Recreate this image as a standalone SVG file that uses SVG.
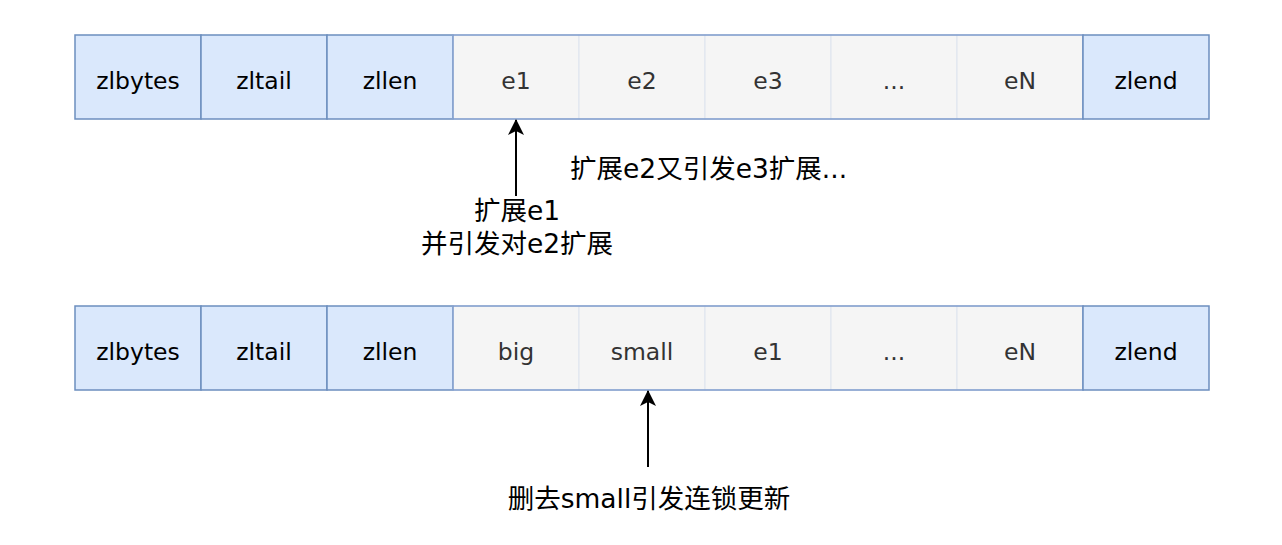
<svg xmlns="http://www.w3.org/2000/svg" width="1282" height="545" viewBox="0 0 1282 545">
<defs>
<style>
.blue{fill:#dae8fc;stroke:#6c8ebf;stroke-width:1.5}
.grey{fill:#f5f5f5;stroke:#dde3ee;stroke-width:1}
.outer{fill:none;stroke:#7d9bcc;stroke-width:1.5}
.lb{font-family:"DejaVu Sans","Noto Sans",sans-serif;font-size:23.5px;text-anchor:middle;fill:#000}
.lg{font-family:"DejaVu Sans","Noto Sans",sans-serif;font-size:23.5px;text-anchor:middle;fill:#333}
.note{font-family:"DejaVu Sans","Noto Sans CJK SC",sans-serif;font-size:26.5px;fill:#000}
.conn{stroke:#000;stroke-width:2;fill:none}
</style>
<marker id="arr" viewBox="0 0 16 16" refX="15" refY="8" markerWidth="16" markerHeight="16" markerUnits="userSpaceOnUse" orient="auto">
<path d="M0,0 L16,8 L0,16 L4,8 Z" fill="#000"/>
</marker>
</defs>
<rect width="1282" height="545" fill="#fff"/>
<g id="row1">
<g id="r1-zlbytes"><rect class="blue" x="75" y="35" width="126" height="84"/><text class="lb" x="138" y="89">zlbytes</text></g>
<g id="r1-zltail"><rect class="blue" x="201" y="35" width="126" height="84"/><text class="lb" x="264" y="89">zltail</text></g>
<g id="r1-zllen"><rect class="blue" x="327" y="35" width="126" height="84"/><text class="lb" x="390" y="89">zllen</text></g>
<g id="r1-e1"><rect class="grey" x="453" y="35" width="126" height="84"/><text class="lg" x="516" y="89">e1</text></g>
<g id="r1-e2"><rect class="grey" x="579" y="35" width="126" height="84"/><text class="lg" x="642" y="89">e2</text></g>
<g id="r1-e3"><rect class="grey" x="705" y="35" width="126" height="84"/><text class="lg" x="768" y="89">e3</text></g>
<g id="r1-dots"><rect class="grey" x="831" y="35" width="126" height="84"/><text class="lg" x="894" y="89">...</text></g>
<g id="r1-eN"><rect class="grey" x="957" y="35" width="126" height="84"/><text class="lg" x="1020" y="89">eN</text></g>
<rect class="outer" x="453" y="35" width="630" height="84"/>
<g id="r1-zlend"><rect class="blue" x="1083" y="35" width="126" height="84"/><text class="lb" x="1146" y="89">zlend</text></g>
</g>
<g id="row2">
<g id="r2-zlbytes"><rect class="blue" x="75" y="306" width="126" height="84"/><text class="lb" x="138" y="360">zlbytes</text></g>
<g id="r2-zltail"><rect class="blue" x="201" y="306" width="126" height="84"/><text class="lb" x="264" y="360">zltail</text></g>
<g id="r2-zllen"><rect class="blue" x="327" y="306" width="126" height="84"/><text class="lb" x="390" y="360">zllen</text></g>
<g id="r2-big"><rect class="grey" x="453" y="306" width="126" height="84"/><text class="lg" x="516" y="360">big</text></g>
<g id="r2-small"><rect class="grey" x="579" y="306" width="126" height="84"/><text class="lg" x="642" y="360">small</text></g>
<g id="r2-e1"><rect class="grey" x="705" y="306" width="126" height="84"/><text class="lg" x="768" y="360">e1</text></g>
<g id="r2-dots"><rect class="grey" x="831" y="306" width="126" height="84"/><text class="lg" x="894" y="360">...</text></g>
<g id="r2-eN"><rect class="grey" x="957" y="306" width="126" height="84"/><text class="lg" x="1020" y="360">eN</text></g>
<rect class="outer" x="453" y="306" width="630" height="84"/>
<g id="r2-zlend"><rect class="blue" x="1083" y="306" width="126" height="84"/><text class="lb" x="1146" y="360">zlend</text></g>
</g>
<g id="connectors">
<line class="conn" x1="516" y1="196" x2="516" y2="120" marker-end="url(#arr)"/>
<line class="conn" x1="648" y1="467" x2="648" y2="391" marker-end="url(#arr)"/>
</g>
<g id="labels">
<text class="note" x="517" y="220" text-anchor="middle">扩展e1</text>
<text class="note" x="517" y="253" text-anchor="middle">并引发对e2扩展</text>
<text class="note" x="570" y="178">扩展e2又引发e3扩展...</text>
<text class="note" x="649" y="508" text-anchor="middle">删去small引发连锁更新</text>
</g>
</svg>
